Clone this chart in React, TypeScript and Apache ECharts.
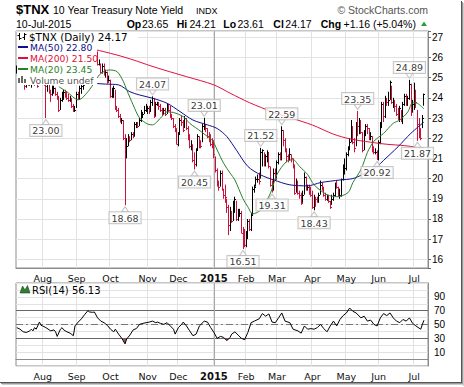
import React, { useEffect, useRef } from 'react';
import * as echarts from 'echarts';

// ---------- data ----------
const startDate = '2014-07-10';
const endDate = '2015-07-14';
const holidays = ['2014-09-01', '2014-11-27', '2014-12-25', '2015-01-01', '2015-01-19', '2015-02-16', '2015-04-03', '2015-05-25', '2015-07-03'];
const monthNames = ['Jan', 'Feb', 'Mar', 'Apr', 'May', 'Jun', 'Jul', 'Aug', 'Sep', 'Oct', 'Nov', 'Dec'];

const lowsJul14 = [25.2, 25.0, 25.1, 25.2, 25.1, 24.4, 24.5, 24.6, 24.6, 24.5, 24.7, 24.6, 24.7, 24.5, 24.7, 25.3];
const highsJul14 = [25.6, 25.4, 25.6, 25.6, 25.5, 25.3, 24.9, 24.9, 24.8, 24.8, 25.2, 25.1, 24.9, 24.9, 25.7, 25.8];
const closesJul14 = [25.4, 25.2, 25.5, 25.5, 25.3, 24.6, 24.8, 24.7, 24.7, 24.7, 25.1, 24.7, 24.8, 24.6, 25.6, 25.6];

const lowsAug = [24.7, 24.6, 23.0, 24.3, 24.2, 23.8, 24.1, 24.2, 24.1, 23.9, 23.3, 23.4, 23.8, 23.9, 24.0, 23.9, 23.8, 23.8, 23.5, 23.3, 23.3];
const highsAug = [25.8, 25.0, 24.9, 24.8, 24.8, 24.4, 24.6, 24.6, 24.5, 24.3, 24.1, 24.0, 24.3, 24.4, 24.4, 24.3, 24.2, 24.1, 24.0, 23.7, 23.6];
const closesAug = [24.9, 24.8, 24.6, 24.7, 24.3, 24.2, 24.4, 24.5, 24.2, 24.0, 23.4, 23.9, 24.2, 24.3, 24.1, 24.0, 23.9, 24.0, 23.6, 23.4, 23.4];

const lowsSep = [23.5, 23.9, 23.9, 24.2, 24.4, 24.6, 24.9, 25.2, 25.4, 25.8, 25.8, 25.7, 25.9, 25.6, 25.6, 25.2, 25.2, 25.1, 25.0, 24.7, 24.8];
const highsSep = [24.3, 24.3, 24.6, 24.7, 24.8, 25.1, 25.5, 25.6, 26.2, 26.1, 26.1, 26.55, 26.4, 26.3, 25.9, 25.7, 25.7, 25.7, 25.4, 25.3, 25.1];
const closesSep = [24.2, 24.0, 24.5, 24.6, 24.7, 25.0, 25.4, 25.5, 26.1, 26.0, 25.9, 26.2, 26.2, 25.7, 25.7, 25.3, 25.6, 25.2, 25.3, 24.8, 24.9];

const lowsOct = [24.0, 24.0, 24.0, 23.4, 23.3, 23.0, 22.8, 22.7, 21.9, 18.68, 21.0, 21.6, 21.8, 21.9, 22.0, 22.1, 22.5, 22.5, 22.6, 22.8, 23.0, 23.2, 23.3];
const highsOct = [24.9, 24.5, 24.6, 24.4, 23.6, 23.5, 23.2, 23.0, 22.9, 22.2, 22.0, 22.2, 22.1, 22.3, 22.3, 22.8, 22.8, 22.8, 23.0, 23.4, 23.3, 23.6, 23.7];
const closesOct = [24.1, 24.4, 24.5, 23.5, 23.4, 23.1, 22.8, 22.9, 22.0, 21.4, 21.6, 22.0, 21.9, 22.2, 22.1, 22.7, 22.7, 22.6, 22.9, 23.2, 23.2, 23.4, 23.5];

const lowsNov = [23.2, 23.2, 23.3, 23.6, 23.0, 23.1, 23.6, 23.4, 23.3, 23.1, 23.2, 23.1, 23.2, 23.3, 23.0, 22.9, 22.5, 22.3, 21.7];
const highsNov = [23.6, 23.6, 23.9, 24.07, 24.0, 23.8, 23.8, 23.8, 23.7, 23.5, 23.5, 23.5, 23.7, 23.7, 23.6, 23.2, 23.0, 22.7, 22.5];
const closesNov = [23.5, 23.4, 23.8, 24.0, 23.1, 23.7, 23.7, 23.6, 23.4, 23.2, 23.4, 23.2, 23.6, 23.4, 23.1, 23.0, 22.6, 22.4, 21.7];

const lowsDec = [21.6, 22.2, 22.6, 22.3, 22.5, 22.4, 21.9, 21.5, 21.4, 20.8, 20.45, 20.6, 21.4, 21.5, 21.5, 21.8, 22.4, 22.3, 22.0, 21.8, 21.6, 21.5];
const highsDec = [22.3, 23.0, 23.1, 22.9, 23.1, 23.0, 22.6, 22.2, 21.9, 21.7, 21.3, 21.5, 22.2, 22.1, 21.9, 22.7, 23.01, 22.7, 22.5, 22.3, 22.2, 22.0];
const closesDec = [22.2, 22.9, 22.8, 22.4, 23.0, 22.5, 22.0, 21.6, 21.6, 20.9, 20.7, 21.4, 22.1, 21.7, 21.6, 22.6, 22.7, 22.5, 22.1, 22.0, 21.7, 21.6];

const lowsJan = [21.0, 20.3, 19.6, 19.4, 19.6, 19.4, 19.0, 18.8, 18.3, 17.2, 17.4, 17.8, 17.9, 18.3, 17.9, 17.9, 18.1, 17.3, 16.51, 16.6];
const highsJan = [21.9, 21.1, 20.5, 19.9, 20.4, 20.4, 19.5, 19.7, 19.0, 18.7, 18.6, 18.4, 18.9, 19.1, 18.9, 18.5, 18.5, 18.4, 17.6, 17.5];
const closesJan = [21.2, 20.4, 19.7, 19.6, 20.3, 19.5, 19.2, 19.1, 18.6, 17.7, 18.3, 17.9, 18.7, 19.0, 18.0, 18.3, 18.3, 17.3, 16.8, 16.7];

const lowsFeb = [16.6, 17.0, 17.4, 17.4, 18.2, 19.3, 19.6, 19.8, 19.7, 20.0, 20.6, 20.6, 20.6, 20.8, 20.5, 19.6, 19.31, 19.4, 19.9];
const highsFeb = [17.4, 18.0, 18.0, 18.3, 19.6, 19.7, 20.1, 20.2, 20.3, 21.52, 21.45, 21.3, 21.2, 21.4, 21.3, 20.6, 19.9, 20.5, 20.5];
const closesFeb = [17.3, 17.9, 17.5, 18.2, 19.5, 19.6, 20.0, 20.0, 19.9, 21.3, 21.4, 20.7, 21.1, 21.3, 20.6, 19.7, 19.6, 20.3, 20.0];

const lowsMar = [20.0, 20.7, 20.9, 20.9, 21.6, 21.3, 20.8, 20.8, 20.9, 20.8, 20.5, 19.2, 19.3, 19.2, 19.0, 18.7, 18.8, 19.2, 19.4, 19.4, 19.2, 19.1];
const highsMar = [20.9, 21.3, 21.3, 22.59, 22.4, 22.0, 21.5, 21.2, 21.5, 21.2, 21.0, 20.7, 20.0, 19.9, 19.4, 19.3, 19.4, 20.3, 20.1, 19.7, 19.7, 19.6];
const closesMar = [20.8, 21.2, 21.1, 22.4, 21.9, 21.4, 21.1, 21.0, 21.2, 21.0, 20.6, 19.3, 19.8, 19.3, 19.2, 18.8, 19.2, 20.1, 19.5, 19.6, 19.4, 19.2];

const lowsApr = [18.5, 18.43, 18.6, 18.8, 18.8, 19.2, 19.4, 19.1, 18.9, 18.9, 18.8, 18.5, 18.7, 18.9, 19.1, 19.5, 19.1, 19.0, 19.1, 19.9, 20.2];
const highsApr = [19.4, 19.2, 19.1, 19.1, 19.3, 19.9, 19.8, 19.6, 19.3, 19.2, 19.2, 18.9, 19.2, 19.3, 19.8, 19.9, 19.6, 19.5, 20.0, 20.7, 21.0];
const closesApr = [18.6, 19.1, 19.0, 18.9, 19.2, 19.7, 19.5, 19.2, 19.0, 19.0, 18.9, 18.6, 19.0, 19.2, 19.7, 19.6, 19.2, 19.2, 20.0, 20.5, 20.5];

const lowsMay = [20.4, 21.1, 21.4, 21.8, 21.7, 21.3, 21.6, 22.1, 22.2, 22.2, 21.3, 21.4, 22.1, 22.2, 21.9, 21.9, 21.3, 21.2, 21.2, 20.92];
const highsMay = [21.3, 21.6, 22.0, 22.9, 22.6, 22.0, 22.8, 23.35, 23.0, 22.9, 22.3, 22.4, 22.7, 22.7, 22.5, 22.3, 22.1, 21.6, 21.5, 21.4];
const closesMay = [21.2, 21.5, 21.8, 22.5, 21.8, 21.5, 22.7, 22.6, 22.8, 22.3, 21.4, 22.3, 22.6, 22.5, 22.0, 22.1, 21.4, 21.3, 21.3, 21.0];

const lowsJun = [20.9, 21.7, 22.5, 22.8, 23.0, 23.6, 23.6, 23.9, 23.7, 23.5, 23.3, 23.1, 22.9, 22.8, 22.8, 22.7, 23.6, 23.6, 23.6, 23.9, 23.1, 23.3];
const highsJun = [21.9, 22.8, 23.8, 23.8, 24.1, 24.0, 24.3, 24.85, 24.6, 24.0, 23.9, 23.7, 23.5, 23.6, 23.4, 23.8, 24.2, 24.2, 24.1, 24.89, 24.7, 23.9];
const closesJun = [21.8, 22.6, 23.7, 23.1, 24.0, 23.8, 23.9, 24.8, 23.8, 23.9, 23.6, 23.2, 23.1, 23.5, 22.9, 23.7, 24.1, 23.7, 24.0, 24.7, 23.3, 23.7];

const lowsJul15 = [23.4, 23.5, 21.87, 22.0, 21.9, 22.5, 23.61];
const highsJul15 = [24.75, 24.4, 23.4, 23.0, 22.5, 23.15, 24.21];
const closesJul15 = [24.2, 23.8, 22.7, 22.4, 22.0, 23.01, 24.17];

const lows = [...lowsJul14, ...lowsAug, ...lowsSep, ...lowsOct, ...lowsNov, ...lowsDec, ...lowsJan, ...lowsFeb, ...lowsMar, ...lowsApr, ...lowsMay, ...lowsJun, ...lowsJul15];
const highs = [...highsJul14, ...highsAug, ...highsSep, ...highsOct, ...highsNov, ...highsDec, ...highsJan, ...highsFeb, ...highsMar, ...highsApr, ...highsMay, ...highsJun, ...highsJul15];
const closes = [...closesJul14, ...closesAug, ...closesSep, ...closesOct, ...closesNov, ...closesDec, ...closesJan, ...closesFeb, ...closesMar, ...closesApr, ...closesMay, ...closesJun, ...closesJul15];

// moving averages: [trading-day index, value]
const ma50 = [[47, 24.72], [55, 24.68], [63, 24.64], [70, 24.3], [76, 24.14], [84, 23.98], [93, 23.73], [101, 23.32], [109, 22.9], [118, 22.66], [124, 22.48], [130, 22.08], [136, 21.4], [143, 20.6], [151, 20.18], [159, 19.93], [169, 19.69], [180, 19.64], [188, 19.8], [200, 19.93], [208, 20.0], [214, 20.2], [219, 20.4], [223, 20.6], [227, 20.9], [236, 21.58], [244, 22.25], [252, 22.8]];
const ma200 = [[48, 26.4], [62, 26.12], [72, 25.88], [83, 25.58], [91, 25.38], [105, 25.05], [122, 24.64], [132, 24.23], [144, 23.76], [159, 23.28], [171, 22.97], [183, 22.65], [196, 22.2], [206, 21.97], [219, 21.8], [229, 21.7], [240, 21.63], [252, 21.5]];
const ma20 = [[26, 24.55], [31, 24.3], [38, 23.9], [45, 24.4], [51, 25.13], [57, 25.38], [62, 25.3], [66, 24.8], [68, 24.4], [72, 23.65], [76, 23.0], [81, 22.7], [84, 22.66], [89, 23.0], [93, 23.3], [97, 23.27], [103, 23.07], [107, 22.74], [114, 22.33], [118, 22.08], [121, 21.9], [124, 21.42], [128, 20.76], [132, 20.27], [135, 19.93], [140, 19.0], [143, 18.6], [146, 18.25], [151, 18.45], [157, 19.28], [161, 20.2], [167, 20.85], [171, 20.93], [175, 20.6], [180, 20.2], [184, 19.69], [192, 19.2], [198, 19.1], [205, 19.3], [208, 19.8], [213, 20.45], [217, 21.3], [219, 21.6], [221, 21.85], [227, 22.24], [233, 22.74], [237, 22.9], [242, 23.3], [245, 23.75], [248, 23.72], [252, 23.45]];

// RSI(14): [trading-day index, value]
const rsi = [[0, 45.5], [2, 43.2], [4, 39.4], [6, 38.5], [8, 40.8], [9, 43.2], [10, 40.8], [11, 45.5], [12, 43.2], [14, 53.5], [15, 48.8], [16, 47.9], [18, 45.5], [21, 40.8], [23, 42.2], [24, 39.4], [25, 32.8], [27, 43.2], [28, 45.5], [29, 42.2], [31, 39.4], [33, 37.5], [35, 33.8], [36, 47.9], [38, 53.5], [40, 58.2], [42, 64.4], [44, 70], [45, 68.1], [47, 67.6], [48, 68.1], [50, 59.6], [52, 54.9], [54, 52.6], [56, 48.8], [58, 43.2], [60, 39.4], [61, 43.2], [63, 36.1], [65, 30], [67, 22], [68, 29.1], [70, 34.7], [72, 42.2], [74, 44.1], [76, 50.2], [78, 51.6], [80, 52.6], [82, 53.5], [84, 54.9], [86, 52.6], [87, 53.5], [89, 51.6], [91, 50.2], [93, 52.6], [95, 47.9], [97, 43.2], [98, 36.1], [100, 45.5], [102, 50.2], [103, 53.5], [105, 47.9], [107, 40.8], [109, 33.8], [111, 36.1], [113, 47.9], [116, 54.9], [118, 53.5], [120, 45.5], [122, 38.5], [124, 30], [126, 32.8], [128, 31.4], [130, 26.7], [132, 31.4], [133, 36.1], [135, 39.4], [137, 34.7], [139, 30], [141, 28.1], [143, 38.5], [145, 52.6], [147, 54.9], [150, 58.2], [152, 65.8], [154, 62], [156, 65.3], [158, 53.5], [160, 52.6], [162, 59.6], [164, 66.7], [166, 54.9], [169, 52.6], [171, 43.2], [174, 40.8], [176, 37.5], [178, 47.9], [180, 43.2], [182, 44.1], [184, 43.2], [186, 45.5], [188, 50.2], [190, 44.1], [192, 39.4], [194, 47.9], [196, 54.9], [198, 47.9], [200, 57.3], [202, 62.9], [204, 66.7], [206, 73.8], [208, 69.1], [210, 66.7], [213, 59.6], [215, 62], [217, 54.9], [219, 56.4], [221, 50.2], [223, 47.9], [225, 59.6], [227, 65.8], [229, 62.9], [231, 66.7], [233, 59.6], [235, 54.9], [237, 52.6], [239, 57.3], [241, 54.9], [243, 59.6], [245, 51.6], [247, 47.9], [250, 43.2], [251, 50], [252, 56.13]];

// annotated highs / lows: [trading-day index, value]
const annotHighs = [[84, 24.07], [116, 23.01], [151, 21.52], [164, 22.59], [211, 23.35], [243, 24.89]];
const annotLows = [[18, 23.0], [67, 18.68], [110, 20.45], [140, 16.51], [158, 19.31], [184, 18.43], [223, 20.92], [248, 21.87]];

const yTicksRsi = [10, 30, 50, 70, 90];

// ---------- helpers ----------
function tradingDays(): string[] {
  const out: string[] = [];
  const d = new Date(startDate + 'T00:00:00Z');
  const end = new Date(endDate + 'T00:00:00Z');
  while (d <= end) {
    const wd = d.getUTCDay();
    const s = d.toISOString().slice(0, 10);
    if (wd !== 0 && wd !== 6 && holidays.indexOf(s) < 0) out.push(s);
    d.setUTCDate(d.getUTCDate() + 1);
  }
  return out;
}

const DEJAVU = "'DejaVu Sans', Verdana, sans-serif";
const LIB = "'Liberation Sans', Arial, sans-serif";
const RED = '#d01038';
const BLACK = '#000000';
const NAVY = '#10108a';
const CRIMSON = '#e0103c';
const GREEN = '#2a7f2a';
const GRID = '#e2e2e2';

function buildOption() {
  const dates = tradingDays();
  const isMonthStart = (i: number) => i > 0 && dates[i].slice(5, 7) !== dates[i - 1].slice(5, 7);
  const janIdx = dates.indexOf('2015-01-02');
  const fmtMonth = (v: string) => {
    const m = +v.slice(5, 7);
    return m === 1 ? '{y|' + v.slice(0, 4) + '}' : monthNames[m - 1];
  };
  const xAxisBase = (gridIndex: number) => ({
    type: 'category',
    gridIndex,
    data: dates,
    boundaryGap: true,
    axisLine: { show: true, lineStyle: { color: '#8c8c8c' } },
    axisTick: { show: false },
    axisLabel: {
      interval: (i: number) => isMonthStart(i),
      formatter: fmtMonth,
      color: '#111',
      fontFamily: DEJAVU,
      fontSize: 9.5,
      margin: 5,
      rich: { y: { fontWeight: 'bold', fontFamily: DEJAVU, fontSize: 10, color: '#111' } },
    },
    splitLine: { show: true, interval: (i: number) => isMonthStart(i), lineStyle: { color: GRID, width: 1 } },
  });

  const barData = lows.map((lo, i) => [i, lo, highs[i], closes[i], i > 0 && closes[i] < closes[i - 1] ? 1 : 0]);

  const legendRows = [
    { text: 'MA(50) 22.80', color: NAVY, y: 47 },
    { text: 'MA(200) 21.50', color: CRIMSON, y: 58 },
    { text: 'MA(20) 23.45', color: GREEN, y: 69 },
  ];

  const header: any[] = [
    { type: 'text', x: 16, y: 9.5, style: { text: '$TNX', font: `bold 13px ${LIB}`, fill: '#000', textVerticalAlign: 'middle' } },
    { type: 'text', x: 53, y: 10, style: { text: '10 Year Treasury Note Yield', font: `10.5px ${LIB}`, fill: '#000', textVerticalAlign: 'middle' } },
    { type: 'text', x: 196, y: 10.5, style: { text: 'INDX', font: `9px ${LIB}`, fill: '#000', textVerticalAlign: 'middle' } },
    { type: 'text', x: 428, y: 10, style: { text: '© StockCharts.com', font: `10.5px ${LIB}`, fill: '#555', textAlign: 'right', textVerticalAlign: 'middle' } },
    { type: 'text', x: 16, y: 23.5, style: { text: '10-Jul-2015', font: `10.5px ${LIB}`, fill: '#000', textVerticalAlign: 'middle' } },
  ];
  const ohlc: [string, number, boolean][] = [
    ['Op', 126.7, true], ['23.65', 142, false], ['Hi', 176.7, true], ['24.21', 189.5, false],
    ['Lo', 223.3, true], ['23.61', 237.5, false], ['Cl', 273.3, true], ['24.17', 285.3, false],
    ['Chg', 320.7, true], ['+1.16 (+5.04%)', 343.5, false],
  ];
  ohlc.forEach(([t, x, b]) => header.push({ type: 'text', x, y: 23.5, style: { text: t, font: `${b ? 'bold ' : ''}10.5px ${LIB}`, fill: '#000', textVerticalAlign: 'middle' } }));
  header.push({ type: 'polygon', shape: { points: [[421, 26], [427, 26], [424, 21.5]] }, style: { fill: '#2f9a3a' } });

  const legend: any[] = [
    { type: 'rect', shape: { x: 17, y: 32, width: 80, height: 53 }, style: { fill: '#fff' } },
    { type: 'rect', shape: { x: 17, y: 32, width: 121, height: 10 }, style: { fill: '#fff' } },
    // OHLC icon
    { type: 'line', shape: { x1: 19.5, y1: 33, x2: 19.5, y2: 40 }, style: { stroke: '#000', lineWidth: 1 } },
    { type: 'line', shape: { x1: 17.5, y1: 35.5, x2: 19.5, y2: 35.5 }, style: { stroke: '#000', lineWidth: 1 } },
    { type: 'line', shape: { x1: 19.5, y1: 38.5, x2: 21.5, y2: 38.5 }, style: { stroke: '#000', lineWidth: 1 } },
    { type: 'line', shape: { x1: 24.5, y1: 33, x2: 24.5, y2: 40 }, style: { stroke: '#000', lineWidth: 1 } },
    { type: 'line', shape: { x1: 22.5, y1: 37.5, x2: 24.5, y2: 37.5 }, style: { stroke: '#000', lineWidth: 1 } },
    { type: 'line', shape: { x1: 24.5, y1: 34.5, x2: 26.5, y2: 34.5 }, style: { stroke: '#000', lineWidth: 1 } },
    { type: 'text', x: 29, y: 37, style: { text: '$TNX (Daily) 24.17', font: `10.4px ${DEJAVU}`, fill: '#000', textVerticalAlign: 'middle' } },
    // volume icon
    { type: 'rect', shape: { x: 18, y: 78, width: 2, height: 5 }, style: { fill: '#666' } },
    { type: 'rect', shape: { x: 21, y: 76, width: 2, height: 7 }, style: { fill: '#666' } },
    { type: 'rect', shape: { x: 24, y: 79, width: 2, height: 4 }, style: { fill: '#666' } },
    { type: 'text', x: 30, y: 80, style: { text: 'Volume undef', font: `9.2px ${DEJAVU}`, fill: '#555', textVerticalAlign: 'middle' } },
    // RSI legend
    { type: 'polygon', shape: { points: [[20, 293], [22.5, 286], [25, 290], [27.5, 285.5], [30, 293]] }, style: { fill: '#2e7d32', stroke: '#1b4d1e', lineWidth: 0.6 } },
    { type: 'text', x: 32, y: 290, style: { text: 'RSI(14) 56.13', font: `10px ${DEJAVU}`, fill: '#000', textVerticalAlign: 'middle' } },
  ];
  legendRows.forEach((r) => {
    legend.push({ type: 'line', shape: { x1: 18, y1: r.y, x2: 28, y2: r.y }, style: { stroke: r.color, lineWidth: 2 } });
    legend.push({ type: 'text', x: 30, y: r.y, style: { text: r.text, font: `9.2px ${DEJAVU}`, fill: r.color, textVerticalAlign: 'middle' } });
  });

  const frame: any[] = [
    { type: 'line', shape: { x1: 461.5, y1: 1, x2: 461.5, y2: 384 }, style: { stroke: '#555', lineWidth: 1 } },
    { type: 'line', shape: { x1: 462.5, y1: 2, x2: 462.5, y2: 385 }, style: { stroke: '#999', lineWidth: 1 } },
    { type: 'line', shape: { x1: 463.5, y1: 3, x2: 463.5, y2: 386 }, style: { stroke: '#ccc', lineWidth: 1 } },
    { type: 'line', shape: { x1: 0, y1: 382.5, x2: 462, y2: 382.5 }, style: { stroke: '#555', lineWidth: 1 } },
    { type: 'line', shape: { x1: 1, y1: 383.5, x2: 463, y2: 383.5 }, style: { stroke: '#999', lineWidth: 1 } },
    { type: 'line', shape: { x1: 2, y1: 384.5, x2: 464, y2: 384.5 }, style: { stroke: '#ccc', lineWidth: 1 } },
  ];

  const labelBox = {
    show: true,
    formatter: (p: any) => (p.value[1] as number).toFixed(2),
    backgroundColor: '#fff',
    borderColor: '#b8b8b8',
    borderWidth: 1,
    padding: [1, 2, 0, 2],
    fontFamily: DEJAVU,
    fontSize: 9.5,
    color: '#000',
    distance: 0,
  };

  return {
    animation: false,
    backgroundColor: '#fff',
    grid: [
      { left: 16, top: 31, width: 412, height: 237, show: true, borderColor: '#8c8c8c', borderWidth: 1, backgroundColor: 'transparent' },
      { left: 16, top: 283, width: 412, height: 83, show: true, borderColor: '#8c8c8c', borderWidth: 1, backgroundColor: 'transparent' },
    ],
    xAxis: [xAxisBase(0), xAxisBase(1)],
    yAxis: [
      {
        type: 'value', gridIndex: 0, position: 'right', min: 15.57, max: 27.31, minInterval: 1, maxInterval: 1,
        axisLine: { show: true, lineStyle: { color: '#8c8c8c' } },
        axisTick: { show: true, length: 3, lineStyle: { color: '#666' } },
        axisLabel: { formatter: (v: number) => (Number.isInteger(v) ? String(v) : ''), color: '#000', fontFamily: LIB, fontSize: 10, margin: 4 },
        splitLine: { show: true, lineStyle: { color: GRID } },
      },
      {
        type: 'value', gridIndex: 1, position: 'right', min: -10, max: 110, interval: 10,
        axisLine: { show: true, lineStyle: { color: '#8c8c8c' } },
        axisTick: { show: false },
        axisLabel: { formatter: (v: number) => (yTicksRsi.indexOf(v) >= 0 ? String(v) : ''), color: '#000', fontFamily: LIB, fontSize: 10, margin: 6 },
        splitLine: { show: true, lineStyle: { color: GRID } },
      },
    ],
    series: [
      {
        type: 'custom', name: 'bars', xAxisIndex: 0, yAxisIndex: 0, data: barData,
        encode: { x: 0, y: [1, 2] },
        renderItem: (_params: any, api: any) => {
          const i = api.value(0);
          const lo = api.coord([i, api.value(1)]);
          const hi = api.coord([i, api.value(2)]);
          const cl = api.coord([i, api.value(3)]);
          const x = Math.floor(lo[0]) + 0.5;
          const color = api.value(4) ? RED : BLACK;
          const cy = Math.round(cl[1]) + 0.5;
          return {
            type: 'group',
            children: [
              { type: 'line', shape: { x1: x, y1: lo[1], x2: x, y2: hi[1] }, style: { stroke: color, lineWidth: 1 } },
              { type: 'line', shape: { x1: x, y1: cy, x2: x + 1.5, y2: cy }, style: { stroke: color, lineWidth: 1 } },
            ],
          };
        },
        z: 2,
      },
      {
        type: 'line', name: 'MA(200)', xAxisIndex: 0, yAxisIndex: 0, data: ma200, showSymbol: false, smooth: 0.3,
        lineStyle: { color: CRIMSON, width: 1 }, itemStyle: { color: CRIMSON }, z: 3,
        markLine: { silent: true, symbol: 'none', label: { show: false }, lineStyle: { color: '#a8a8a8', width: 1, type: 'solid' }, data: [{ xAxis: janIdx }], z: 1 },
      },
      { type: 'line', name: 'MA(50)', xAxisIndex: 0, yAxisIndex: 0, data: ma50, showSymbol: false, smooth: 0.3, lineStyle: { color: NAVY, width: 1 }, itemStyle: { color: NAVY }, z: 3 },
      { type: 'line', name: 'MA(20)', xAxisIndex: 0, yAxisIndex: 0, data: ma20, showSymbol: false, smooth: 0.3, lineStyle: { color: GREEN, width: 1 }, itemStyle: { color: GREEN }, z: 3 },
      {
        type: 'scatter', name: 'highs', xAxisIndex: 0, yAxisIndex: 0, data: annotHighs, symbol: 'triangle', symbolRotate: 180,
        symbolSize: [7, 5], symbolOffset: [0, -4], itemStyle: { color: '#fff', borderColor: '#b8b8b8', borderWidth: 1 },
        label: { ...labelBox, position: 'top' }, z: 5,
      },
      {
        type: 'scatter', name: 'lows', xAxisIndex: 0, yAxisIndex: 0, data: annotLows, symbol: 'triangle',
        symbolSize: [7, 5], symbolOffset: [0, 4], itemStyle: { color: '#fff', borderColor: '#b8b8b8', borderWidth: 1 },
        label: { ...labelBox, position: 'bottom' }, z: 5,
      },
      {
        type: 'line', name: 'RSI low', xAxisIndex: 1, yAxisIndex: 1, data: rsi.map(([i, v]) => [i, Math.min(v, 30)]),
        showSymbol: false, lineStyle: { width: 0, opacity: 0 }, areaStyle: { origin: 30, color: '#9a5a5e', opacity: 1 }, z: 2,
      },
      {
        type: 'line', name: 'RSI', xAxisIndex: 1, yAxisIndex: 1, data: rsi, showSymbol: false,
        lineStyle: { color: '#000', width: 1 }, itemStyle: { color: '#000' }, z: 3,
        markLine: {
          silent: true, symbol: 'none', label: { show: false },
          data: [
            { yAxis: 70, lineStyle: { color: '#666', width: 1, type: 'solid' } },
            { yAxis: 30, lineStyle: { color: '#666', width: 1, type: 'solid' } },
            { yAxis: 50, lineStyle: { color: '#777', width: 1, type: [7, 3, 2, 3] } },
            { xAxis: janIdx, lineStyle: { color: '#a8a8a8', width: 1, type: 'solid' } },
          ],
          z: 1,
        },
      },
    ],
    graphic: { elements: [...header, ...legend, ...frame].map((e) => ({ ...e, z: 100 })) },
  };
}

export default function App() {
  const ref = useRef<HTMLDivElement>(null);
  useEffect(() => {
    if (!ref.current) return;
    const chart = echarts.init(ref.current, null, { renderer: 'svg' });
    chart.setOption(buildOption() as any);
    return () => chart.dispose();
  }, []);
  return <div ref={ref} style={{ position: 'fixed', left: 0, top: 0, width: 464, height: 387, background: '#fff' }} />;
}
